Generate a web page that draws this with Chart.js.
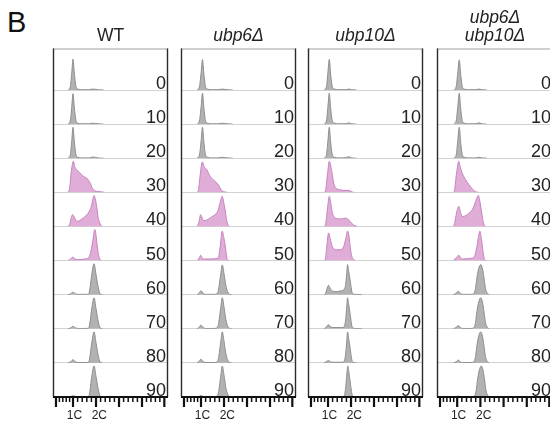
<!DOCTYPE html>
<html>
<head>
<meta charset="utf-8">
<script src="https://cdn.jsdelivr.net/npm/chart.js@4.4.0/dist/chart.umd.min.js"></script>
<style>
  html, body { margin: 0; padding: 0; background: #fff; overflow: hidden; }
  #wrap { position: relative; width: 550px; height: 423px; overflow: hidden; }
  canvas { position: absolute; top: 0; }
  #letra { position: absolute; left: 7px; top: 8px; font: 29px "Liberation Sans", Arial, sans-serif; line-height: 29px; color: #111; }
</style>
</head>
<body>
<div id="wrap">
  <div id="letra">B</div>
  <canvas id="pWT" width="127" height="423" style="left:47px"></canvas>
  <canvas id="pUbp6" width="127" height="423" style="left:175px"></canvas>
  <canvas id="pUbp10" width="127" height="423" style="left:302px"></canvas>
  <canvas id="pDuplo" width="128" height="423" style="left:431px"></canvas>
</div>
<script>
// tempos (min) de cada linha e linhas destacadas em rosa
const tempos = ['0', '10', '20', '30', '40', '50', '60', '70', '80', '90'];
const destacados = ['30', '40', '50'];
const rotulosX = ['1C', '2C'];

// histogramas: [conteudo de DNA, contagem relativa]
const wt = [
  [[13,0],[15,0.1],[16.4,0.6],[17.4,1.0],[18.5,0.55],[19.8,0.15],[21.5,0.03],[25,0.01],[31,0.01],[35,0.03],[39,0.01],[44,0]],
  [[13,0],[15,0.1],[16.4,0.6],[17.4,0.98],[18.5,0.55],[19.8,0.15],[21.5,0.03],[25,0.01],[31,0.01],[35,0.03],[39,0.01],[44,0]],
  [[13,0],[15,0.1],[16.4,0.6],[17.4,1.0],[18.5,0.55],[19.8,0.15],[21.5,0.03],[25,0.01],[31,0.01],[35,0.04],[39,0.01],[44,0]],
  [[13,0],[14.5,0.15],[16,0.7],[17.7,1.0],[19,0.82],[20.6,0.73],[23,0.64],[25,0.57],[27,0.5],[29.3,0.46],[31,0.38],[32.2,0.31],[34,0.15],[35,0.09],[37,0.04],[41,0.02],[45,0]],
  [[13,0],[14.8,0.1],[16,0.3],[17.1,0.38],[18.5,0.3],[20.6,0.16],[23,0.19],[26.3,0.27],[28.5,0.34],[30.7,0.43],[32.3,0.55],[33.7,0.7],[34.8,0.9],[35.7,1.0],[36.8,0.88],[38,0.64],[39.2,0.3],[40.3,0.16],[41.5,0.04],[43,0]],
  [[13,0],[15,0.04],[16.5,0.1],[17.4,0.11],[19,0.06],[21,0.03],[25,0.04],[29,0.06],[31,0.1],[32.2,0.19],[33.5,0.4],[34.6,0.62],[35.6,0.9],[36.4,1.0],[37.3,0.85],[38.3,0.52],[39.4,0.22],[40.3,0.08],[42,0]],
  [[13,0],[15.5,0.03],[17.4,0.08],[19.5,0.03],[22,0.01],[28,0.01],[31,0.02],[32.2,0.22],[33.7,0.65],[35.7,1.0],[37.4,0.65],[39.4,0.22],[41,0.03],[43,0]],
  [[13,0],[15.5,0.03],[17.4,0.08],[19.5,0.03],[22,0.01],[28,0.01],[31,0.02],[32.2,0.22],[33.7,0.65],[35.7,1.0],[37.4,0.65],[39.4,0.22],[41,0.03],[43,0]],
  [[13,0],[15.5,0.04],[17.4,0.1],[19.5,0.04],[22,0.01],[28,0.01],[31,0.02],[32.2,0.22],[33.7,0.65],[35.7,1.0],[37.4,0.65],[39.4,0.22],[41,0.03],[43,0]],
  [[13,0],[15.5,0.02],[17.4,0.04],[19.5,0.02],[22,0.01],[28,0.01],[31,0.02],[32.2,0.22],[33.7,0.66],[35.7,1.0],[37.4,0.66],[39.4,0.24],[41,0.03],[43,0]]
];

const ubp6 = [
  [[14,0],[16,0.1],[17.6,0.6],[18.7,0.98],[19.8,0.55],[21.1,0.15],[23,0.03],[26,0.01],[32,0.01],[36,0.03],[40,0.01],[45,0]],
  [[14,0],[16,0.1],[17.6,0.6],[18.7,1.0],[19.8,0.55],[21.1,0.15],[23,0.03],[26,0.01],[32,0.01],[36,0.03],[40,0.01],[45,0]],
  [[14,0],[16,0.1],[17.6,0.6],[18.7,1.0],[19.8,0.55],[21.1,0.15],[23,0.03],[26,0.01],[32,0.01],[36,0.03],[40,0.01],[45,0]],
  [[14,0],[15,0.05],[16.5,0.5],[18.5,0.98],[20.2,0.82],[22.4,0.73],[25.2,0.52],[28.1,0.41],[30.3,0.33],[32.4,0.25],[34,0.14],[35.4,0.06],[38.3,0.01],[40,0]],
  [[14,0],[15.5,0.12],[16.4,0.3],[17.1,0.38],[18.2,0.3],[19.4,0.19],[22,0.2],[25.2,0.27],[28,0.34],[31,0.43],[32.6,0.56],[33.9,0.75],[35.9,0.97],[37,0.8],[38.3,0.54],[39.3,0.28],[40.3,0.11],[42,0]],
  [[14,0],[15.8,0.08],[17.1,0.17],[18.3,0.1],[19.4,0.05],[25,0.05],[30,0.06],[32.4,0.08],[33.9,0.41],[35.9,0.95],[37.2,0.75],[38.3,0.52],[39.4,0.2],[40.3,0.03],[42,0]],
  [[14,0],[15.8,0.05],[17.4,0.13],[19,0.05],[21,0.01],[28,0.01],[31.5,0.03],[33,0.25],[34.5,0.65],[35.9,0.96],[37.4,0.68],[39,0.3],[40.5,0.1],[42,0.02],[44,0]],
  [[14,0],[15.8,0.05],[17.4,0.12],[19,0.05],[21,0.01],[28,0.01],[31.5,0.03],[33,0.25],[34.5,0.66],[35.9,1.0],[37.4,0.7],[39,0.3],[40.5,0.1],[42,0.02],[44,0]],
  [[14,0],[15.8,0.05],[17.4,0.12],[19,0.05],[21,0.01],[28,0.01],[31.5,0.03],[33,0.25],[34.5,0.66],[35.9,1.0],[37.4,0.7],[39,0.3],[40.5,0.1],[42,0.02],[44,0]],
  [[14,0],[15.8,0.02],[17.4,0.05],[19,0.02],[21,0.01],[28,0.01],[31.5,0.03],[33,0.25],[34.5,0.66],[35.9,1.0],[37.4,0.7],[39,0.3],[40.5,0.1],[42,0.02],[44,0]]
];

const ubp10 = [
  [[14,0],[16,0.1],[17.4,0.6],[18.5,0.99],[19.6,0.55],[20.9,0.15],[23,0.03],[27,0.01],[33,0.01],[35.3,0.03],[38,0.01],[42,0]],
  [[14,0],[16,0.1],[17.4,0.6],[18.5,1.0],[19.6,0.55],[20.9,0.15],[23,0.03],[27,0.01],[33,0.01],[35.3,0.04],[38,0.01],[42,0]],
  [[14,0],[16,0.1],[17.4,0.6],[18.5,1.0],[19.6,0.55],[20.9,0.15],[23,0.03],[27,0.01],[33,0.02],[35.3,0.05],[38,0.01],[42,0]],
  [[14,0],[15.2,0.05],[17,0.6],[18.5,1.0],[19.8,0.85],[20.9,0.62],[22.3,0.3],[23.7,0.16],[25.2,0.11],[28,0.08],[31,0.065],[34,0.065],[36.2,0.06],[38.3,0.01],[40,0]],
  [[14,0],[15.2,0.05],[17,0.6],[18.5,0.97],[19.8,0.75],[20.9,0.48],[22.3,0.33],[23.7,0.27],[26,0.25],[28.1,0.24],[30,0.25],[32.4,0.27],[34,0.25],[35.3,0.22],[36.8,0.15],[38.3,0.09],[39.8,0.04],[41.1,0.02],[43,0]],
  [[14,0],[15,0.03],[16.5,0.52],[17.9,0.89],[19.3,0.7],[20.9,0.48],[22.5,0.38],[25.2,0.35],[28.1,0.35],[31,0.45],[32.8,0.7],[34.4,0.95],[35.6,0.8],[36.8,0.41],[38,0.15],[39.1,0.06],[41,0]],
  [[14,0],[15.3,0.04],[16.5,0.2],[17.9,0.3],[19.3,0.2],[21.6,0.11],[25,0.1],[28,0.12],[31,0.16],[32.6,0.3],[33.6,0.65],[34.4,0.97],[35.4,0.75],[36.8,0.43],[38,0.12],[39.1,0.02],[42,0.01],[47,0]],
  [[14,0],[15.5,0.04],[16.7,0.1],[17.9,0.13],[19.3,0.08],[21.6,0.04],[25,0.04],[28,0.04],[31,0.05],[32.6,0.25],[33.6,0.65],[34.4,1.0],[35.4,0.78],[36.8,0.43],[38,0.12],[39.1,0.02],[42,0.01],[47,0]],
  [[14,0],[15.5,0.03],[17.9,0.08],[19.3,0.04],[21.6,0.02],[28,0.02],[31,0.03],[32.6,0.25],[33.6,0.65],[34.4,1.0],[35.4,0.78],[36.8,0.43],[38,0.12],[39.1,0.02],[42,0]],
  [[14,0],[17.9,0.01],[21.6,0.01],[28,0.01],[31,0.02],[32.6,0.25],[33.6,0.66],[34.6,1.0],[35.6,0.78],[36.9,0.43],[38.1,0.12],[39.2,0.02],[42,0]]
];

const duplo = [
  [[14.5,0],[16.5,0.1],[18,0.6],[19.2,0.97],[20.3,0.55],[21.6,0.15],[23.5,0.03],[27,0.01],[33,0.01],[36.2,0.03],[39,0.01],[43,0]],
  [[14.5,0],[16.5,0.1],[18,0.6],[19.2,1.0],[20.3,0.55],[21.6,0.15],[23.5,0.03],[27,0.01],[33,0.01],[36.2,0.04],[39,0.01],[43,0]],
  [[14.5,0],[16.5,0.1],[18,0.6],[19.2,1.0],[20.3,0.55],[21.6,0.15],[23.5,0.03],[27,0.01],[33,0.01],[36.2,0.03],[39,0.01],[43,0]],
  [[14,0],[15,0.05],[16.8,0.6],[18.8,1.0],[20.2,0.8],[21.7,0.62],[24.6,0.41],[27.5,0.25],[30.4,0.11],[33.3,0.02],[36,0]],
  [[14,0],[15.2,0.1],[16.8,0.43],[18.8,0.65],[20.3,0.45],[21.7,0.32],[23.5,0.33],[26.1,0.38],[28.5,0.46],[30.4,0.54],[32,0.67],[33.3,0.81],[34.6,0.94],[35.7,1.0],[36.7,0.86],[37.7,0.65],[38.9,0.35],[40,0.11],[42,0]],
  [[14,0],[16.5,0.08],[18.8,0.17],[20.5,0.08],[21.7,0.05],[26,0.06],[30.4,0.08],[32.5,0.15],[34.2,0.41],[35.7,0.75],[37,0.95],[38.1,0.75],[39.1,0.46],[40.2,0.15],[41.1,0.03],[43,0]],
  [[14,0],[16.3,0.04],[18.3,0.11],[20.3,0.04],[22,0.01],[29,0.01],[31.8,0.03],[33.2,0.2],[34.4,0.54],[36,0.85],[37.7,0.97],[39.3,0.82],[40.5,0.54],[41.8,0.2],[43.5,0.04],[45,0]],
  [[14,0],[16.3,0.04],[18.3,0.1],[20.3,0.04],[22,0.01],[29,0.01],[31.8,0.03],[33.2,0.2],[34.4,0.55],[36,0.87],[37.7,1.0],[39.3,0.84],[40.5,0.55],[41.8,0.2],[43.5,0.04],[45,0]],
  [[14,0],[16.3,0.03],[18.3,0.09],[20.3,0.03],[22,0.01],[29,0.01],[31.8,0.03],[33.2,0.2],[34.4,0.55],[36,0.87],[37.7,1.0],[39.3,0.84],[40.5,0.55],[41.8,0.2],[43.5,0.04],[45,0]],
  [[14,0],[16.3,0.01],[18.3,0.03],[20.3,0.01],[29,0.01],[32.3,0.03],[33.7,0.2],[34.9,0.55],[36.5,0.87],[38.2,1.0],[39.8,0.84],[41,0.55],[42.3,0.2],[44,0.04],[45.5,0]]
];

// marcas do eixo x (posicoes em unidades do eixo)
const marcasMaiores = [2.6, 17.4, 37.4, 57.4, 77.4, 96.8];
const posRotulosX = [18.6, 40.3];

const fonte = '"Liberation Sans", Arial, Helvetica, sans-serif';
const alturaMax = 1.1;
const pesoTopo = 1.217; // primeira linha tem uma folga acima

const moldura = {
  id: 'moldura',
  afterDraw(chart, args, opts) {
    const { ctx, chartArea: a, scales } = chart;
    const x = scales.x;
    ctx.save();
    // borda de cima (cinza) e laterais (pretas)
    ctx.strokeStyle = '#a0a0a0';
    ctx.lineWidth = 1;
    ctx.beginPath();
    ctx.moveTo(a.left, a.top + 0.5);
    ctx.lineTo(a.right, a.top + 0.5);
    ctx.stroke();
    ctx.strokeStyle = '#2b2b2b';
    ctx.lineWidth = 1.4;
    ctx.beginPath();
    ctx.moveTo(a.left + 0.5, a.top);
    ctx.lineTo(a.left + 0.5, a.bottom);
    ctx.moveTo(a.right - 0.5, a.top);
    ctx.lineTo(a.right - 0.5, a.bottom);
    ctx.stroke();

    // eixo x com marcas
    ctx.strokeStyle = '#111';
    ctx.lineWidth = 2;
    ctx.beginPath();
    ctx.moveTo(a.left, a.bottom);
    ctx.lineTo(a.right, a.bottom);
    ctx.stroke();
    for (let i = 0; i < marcasMaiores.length; i++) {
      const px = x.getPixelForValue(marcasMaiores[i]);
      ctx.lineWidth = 2.2;
      ctx.beginPath();
      ctx.moveTo(px, a.bottom);
      ctx.lineTo(px, a.bottom + 10);
      ctx.stroke();
      if (i < marcasMaiores.length - 1) {
        const passo = (marcasMaiores[i + 1] - marcasMaiores[i]) / 5;
        ctx.lineWidth = 1.5;
        for (let k = 1; k < 5; k++) {
          const pm = x.getPixelForValue(marcasMaiores[i] + passo * k);
          ctx.beginPath();
          ctx.moveTo(pm, a.bottom);
          ctx.lineTo(pm, a.bottom + 5);
          ctx.stroke();
        }
      }
    }
    ctx.fillStyle = '#222';
    ctx.font = '12px ' + fonte;
    ctx.textAlign = 'center';
    ctx.textBaseline = 'alphabetic';
    rotulosX.forEach((r, i) => ctx.fillText(r, x.getPixelForValue(posRotulosX[i]), a.bottom + 22));

    // tempos a direita de cada linha
    ctx.font = '18px ' + fonte;
    ctx.textAlign = 'right';
    tempos.forEach((t, i) => {
      const s = scales['r' + i];
      ctx.fillText(t, a.right - 2, s.bottom - 1);
    });

    // titulo
    ctx.textAlign = 'center';
    ctx.font = (opts.italico ? 'italic ' : '') + '17.5px ' + fonte;
    const cx = (a.left + a.right) / 2;
    const linhas = opts.titulo;
    linhas.forEach((l, i) => ctx.fillText(l, cx, 41 - (linhas.length - 1 - i) * 18.5));
    ctx.restore();
  }
};

function criarPainel(canvasId, titulo, italico, histogramas) {
  const ctx = document.getElementById(canvasId).getContext('2d');

  const escalas = { x: { type: 'linear', min: 0, max: 100, display: false } };
  tempos.forEach((t, i) => {
    const peso = i === 0 ? pesoTopo : 1;
    escalas['r' + i] = {
      type: 'linear',
      position: 'right',
      stack: 'linhas',
      stackWeight: peso,
      min: 0,
      max: alturaMax * peso,
      ticks: { display: false },
      border: { display: false },
      grid: { drawTicks: false, color: '#d2d2d2', lineWidth: 1 },
      afterBuildTicks: s => { s.ticks = [{ value: 0 }]; }
    };
  });

  const datasets = histogramas.map((pts, i) => {
    const rosa = destacados.includes(tempos[i]);
    return {
      data: pts,
      xAxisID: 'x',
      yAxisID: 'r' + i,
      borderColor: rosa ? '#c683bb' : '#8e8e8e',
      backgroundColor: rosa ? '#dfadd7' : '#b2b2b2',
      borderWidth: 1,
      pointRadius: 0,
      fill: 'origin',
      cubicInterpolationMode: 'monotone'
    };
  });

  return new Chart(ctx, {
    type: 'line',
    data: { datasets },
    options: {
      responsive: false,
      animation: false,
      layout: { padding: { left: 6, right: 6, top: 48.5, bottom: 26 } },
      scales: escalas,
      plugins: {
        legend: { display: false },
        tooltip: { enabled: false },
        moldura: { titulo, italico }
      }
    },
    plugins: [moldura]
  });
}

criarPainel('pWT', ['WT'], false, wt);
criarPainel('pUbp6', ['ubp6Δ'], true, ubp6);
criarPainel('pUbp10', ['ubp10Δ'], true, ubp10);
criarPainel('pDuplo', ['ubp6Δ', 'ubp10Δ'], true, duplo);
</script>
</body>
</html>
